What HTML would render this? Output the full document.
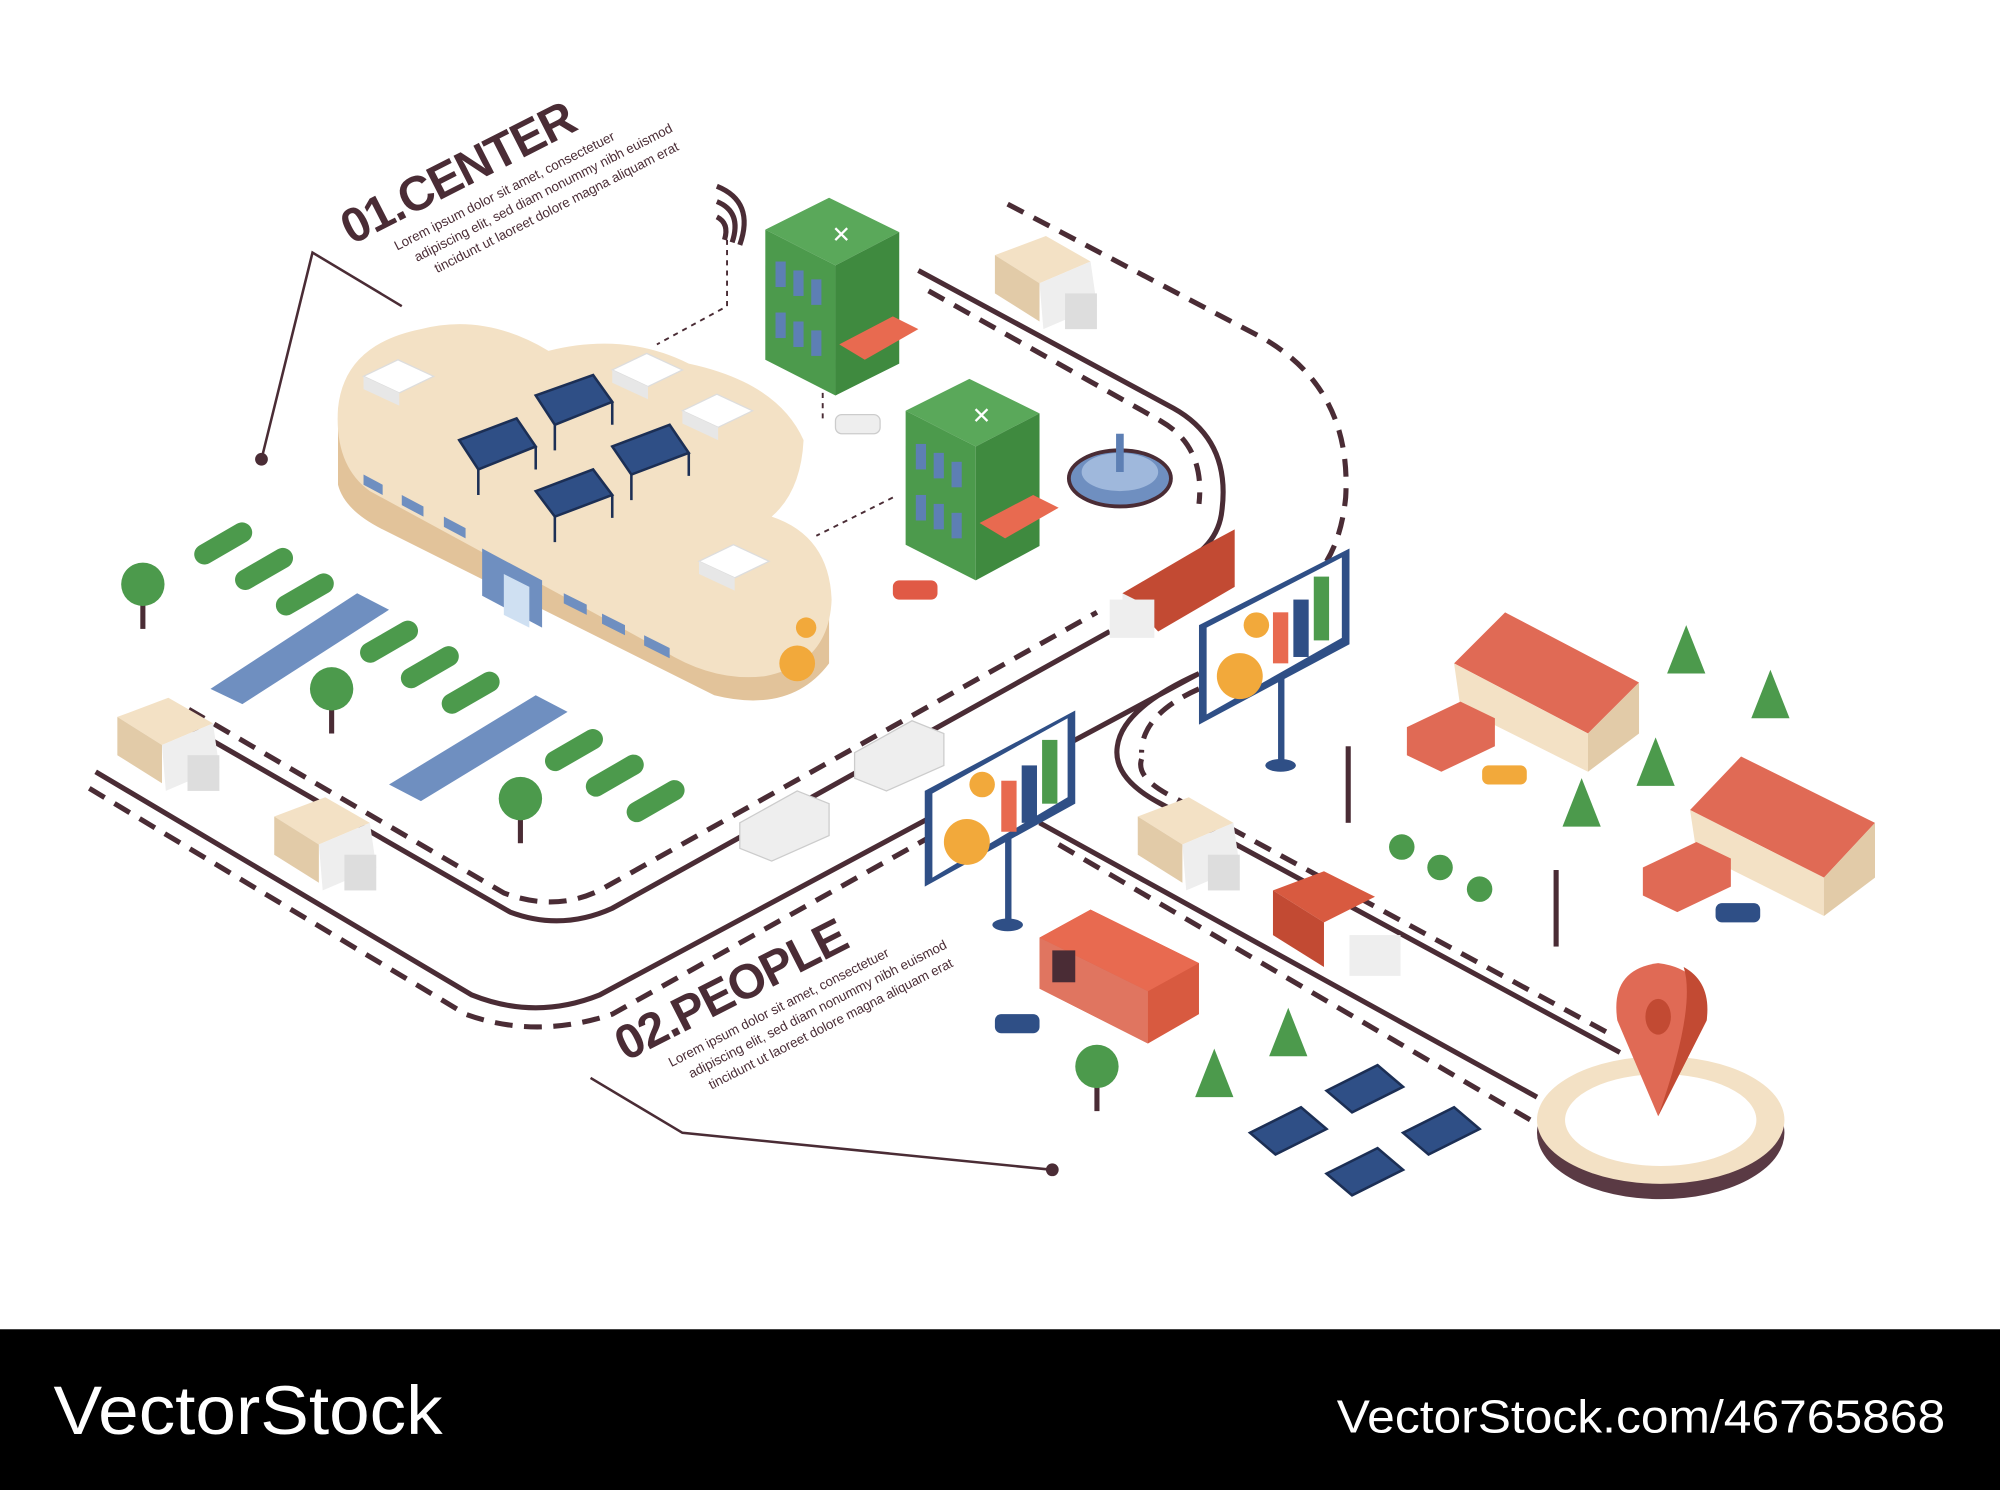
<!DOCTYPE html>
<html><head><meta charset="utf-8"><style>
html,body{margin:0;padding:0;background:#fff}
svg{display:block}
</style></head><body>
<svg width="2000" height="1490" viewBox="0 0 1568 1168" preserveAspectRatio="none" xmlns="http://www.w3.org/2000/svg" font-family="Liberation Sans, sans-serif">
<rect width="1568" height="1168" fill="#fff"/>
<g fill="none" stroke="#4a2c35" stroke-width="4">
<path d="M720 212 L920 320 Q965 345 958 400 Q955 430 920 445"/>
<path d="M790 160 L990 265 Q1060 305 1055 390 Q1052 420 1040 440" stroke-dasharray="14 9"/>
<path d="M728 228 L910 330 Q945 350 940 395" stroke-dasharray="14 9"/>
<path d="M148 570 L400 715 Q440 730 480 712 L870 495"/>
<path d="M148 556 L395 700 Q435 715 470 698 L860 480" stroke-dasharray="14 9"/>
<path d="M75 605 L370 780 Q420 800 470 780 L940 528 Q880 555 876 585 Q872 610 910 630 L1270 825"/>
<path d="M70 618 L365 795 Q420 815 480 795 L740 650" stroke-dasharray="14 9"/>
<path d="M895 595 Q890 610 920 625 L1265 812" stroke-dasharray="14 9"/>
<path d="M940 540 Q895 560 895 590" stroke-dasharray="14 9"/>
<path d="M815 645 L1205 860"/>
<path d="M830 662 L1200 878" stroke-dasharray="14 9"/>
<path d="M205 360 L245 198 L315 240" stroke-width="2"/>
<path d="M463 845 L535 888 L825 917" stroke-width="2"/>
<path d="M570 180 L570 240 L515 270" stroke-width="1.5" stroke-dasharray="4 4"/>
<path d="M700 390 L640 420" stroke-width="1.5" stroke-dasharray="4 4"/>
<path d="M645 300 L645 330" stroke-width="1.5" stroke-dasharray="4 4"/>
</g>
<circle cx="205" cy="360" r="5" fill="#4a2c35"/>
<circle cx="825" cy="917" r="5" fill="#4a2c35"/>
<g fill="none" stroke="#4a2c35" stroke-width="4"><path d="M562 170 q10 5 6 18"/><path d="M562 158 q20 8 12 32"/><path d="M562 146 q30 12 18 46"/></g>

<path d="M265 320 L265 380 Q270 400 300 415 L560 545 Q620 560 650 520 L650 460 L300 300 Z" fill="#e2c39a"/>
<path d="M265 320 Q270 270 330 258 Q380 245 430 275 Q490 260 540 285 Q610 300 630 345 Q628 385 605 405 Q650 420 652 470 Q650 520 600 530 Q560 535 520 510 L290 385 Q262 365 265 320 Z" fill="#f3e1c5"/>
<g fill="#6f8fc0">
<polygon points="285,372 300,380 300,388 285,380"/><polygon points="315,388 332,397 332,405 315,396"/><polygon points="348,405 365,414 365,422 348,413"/>
<polygon points="442,465 460,474 460,482 442,473"/><polygon points="472,481 490,490 490,498 472,489"/><polygon points="505,498 525,508 525,516 505,506"/>
<polygon points="378,430 425,455 425,492 378,467"/>
</g>
<polygon points="395,450 415,460 415,492 395,482" fill="#cfe0f2"/>
<g fill="#2f4f86" stroke="#1c2f55" stroke-width="2">
<polygon points="360,345 405,328 420,350 375,368"/>
<polygon points="420,310 465,294 480,315 435,333"/>
<polygon points="420,385 465,368 480,388 435,405"/>
<polygon points="480,350 525,333 540,355 495,372"/>
</g>
<g stroke="#1c2f55" stroke-width="2"><path d="M375 368 v20 M420 350 v18 M435 333 v20 M480 315 v18 M435 405 v20 M480 388 v18 M495 372 v20 M540 355 v18"/></g>
<g>
<polygon points="285,295 312,282 340,295 313,308" fill="#fff" stroke="#ddd"/><polygon points="285,295 313,308 313,318 285,305" fill="#e7e7e7"/>
<polygon points="480,290 507,277 535,290 508,303" fill="#fff" stroke="#ddd"/><polygon points="480,290 508,303 508,313 480,300" fill="#e7e7e7"/>
<polygon points="535,322 562,309 590,322 563,335" fill="#fff" stroke="#ddd"/><polygon points="535,322 563,335 563,345 535,332" fill="#e7e7e7"/>
<polygon points="548,440 575,427 603,440 576,453" fill="#fff" stroke="#ddd"/><polygon points="548,440 576,453 576,463 548,450" fill="#e7e7e7"/>
</g>
<circle cx="625" cy="520" r="14" fill="#f2a93b"/><circle cx="632" cy="492" r="8" fill="#f2a93b"/>

<g>
<polygon points="600,180 650,155 705,182 655,208" fill="#5aa85a"/>
<polygon points="600,180 655,208 655,310 600,282" fill="#4c9a4c"/>
<polygon points="655,208 705,182 705,285 655,310" fill="#3f8a3f"/>
<polygon points="710,322 760,297 815,324 765,350" fill="#5aa85a"/>
<polygon points="710,322 765,350 765,455 710,427" fill="#4c9a4c"/>
<polygon points="765,350 815,324 815,428 765,455" fill="#3f8a3f"/>
<g fill="#5d7fb4"><rect x="608" y="205" width="8" height="20"/><rect x="622" y="212" width="8" height="20"/><rect x="636" y="219" width="8" height="20"/><rect x="608" y="245" width="8" height="20"/><rect x="622" y="252" width="8" height="20"/><rect x="636" y="259" width="8" height="20"/>
<rect x="718" y="348" width="8" height="20"/><rect x="732" y="355" width="8" height="20"/><rect x="746" y="362" width="8" height="20"/><rect x="718" y="388" width="8" height="20"/><rect x="732" y="395" width="8" height="20"/><rect x="746" y="402" width="8" height="20"/></g>
<polygon points="658,270 700,248 720,258 678,282" fill="#e86a50"/>
<polygon points="768,410 810,388 830,398 788,422" fill="#e86a50"/>
<text x="652" y="190" font-size="18" fill="#fff">✕</text><text x="762" y="332" font-size="18" fill="#fff">✕</text>
</g>
<ellipse cx="878" cy="375" rx="40" ry="22" fill="#6f8fc0" stroke="#4a2c35" stroke-width="3"/>
<ellipse cx="878" cy="370" rx="30" ry="15" fill="#9fb8dc"/>
<rect x="875" y="340" width="6" height="30" fill="#5d7fb4"/>

<polygon points="165,540 280,465 305,478 190,552" fill="#6f8fc0"/>
<polygon points="305,615 420,545 445,558 330,628" fill="#6f8fc0"/>
<g fill="#4c9a4c">
<rect x="150" y="418" width="50" height="16" rx="8" transform="rotate(-30 175 426)"/>
<rect x="182" y="438" width="50" height="16" rx="8" transform="rotate(-30 207 446)"/>
<rect x="214" y="458" width="50" height="16" rx="8" transform="rotate(-30 239 466)"/>
<rect x="280" y="495" width="50" height="16" rx="8" transform="rotate(-30 305 503)"/>
<rect x="312" y="515" width="50" height="16" rx="8" transform="rotate(-30 337 523)"/>
<rect x="344" y="535" width="50" height="16" rx="8" transform="rotate(-30 369 543)"/>
<rect x="425" y="580" width="50" height="16" rx="8" transform="rotate(-30 450 588)"/>
<rect x="457" y="600" width="50" height="16" rx="8" transform="rotate(-30 482 608)"/>
<rect x="489" y="620" width="50" height="16" rx="8" transform="rotate(-30 514 628)"/>
</g>
<g>
<g transform="translate(112,458)"><rect x="-2" y="0" width="4" height="35" fill="#4a2c35"/><circle r="17" fill="#4c9a4c"/></g>
<g transform="translate(260,540)"><rect x="-2" y="0" width="4" height="35" fill="#4a2c35"/><circle r="17" fill="#4c9a4c"/></g>
<g transform="translate(408,626)"><rect x="-2" y="0" width="4" height="35" fill="#4a2c35"/><circle r="17" fill="#4c9a4c"/></g>
<g transform="translate(860,836)"><rect x="-2" y="0" width="4" height="35" fill="#4a2c35"/><circle r="17" fill="#4c9a4c"/></g>
<g fill="#4c9a4c">
<polygon points="1322,490 1307,528 1337,528"/><polygon points="1388,525 1373,563 1403,563"/><polygon points="1298,578 1283,616 1313,616"/><polygon points="1240,610 1225,648 1255,648"/>
<polygon points="1010,790 995,828 1025,828"/><polygon points="952,822 937,860 967,860"/>
</g>
<circle cx="1099" cy="664" r="10" fill="#4c9a4c"/><circle cx="1129" cy="680" r="10" fill="#4c9a4c"/><circle cx="1160" cy="697" r="10" fill="#4c9a4c"/>
</g>

<g>
<g transform="translate(780,190)"><polygon points="0,10 40,-5 75,15 35,32" fill="#f3e1c5"/><polygon points="0,10 35,32 35,62 0,40" fill="#e2cba8"/><polygon points="35,32 75,15 80,50 38,68" fill="#eee"/><rect x="55" y="40" width="25" height="28" fill="#ddd"/></g>
<g transform="translate(92,552)"><polygon points="0,10 40,-5 75,15 35,32" fill="#f3e1c5"/><polygon points="0,10 35,32 35,62 0,40" fill="#e2cba8"/><polygon points="35,32 75,15 80,50 38,68" fill="#eee"/><rect x="55" y="40" width="25" height="28" fill="#ddd"/></g>
<g transform="translate(215,630)"><polygon points="0,10 40,-5 75,15 35,32" fill="#f3e1c5"/><polygon points="0,10 35,32 35,62 0,40" fill="#e2cba8"/><polygon points="35,32 75,15 80,50 38,68" fill="#eee"/><rect x="55" y="40" width="25" height="28" fill="#ddd"/></g>
<g transform="translate(892,630)"><polygon points="0,10 40,-5 75,15 35,32" fill="#f3e1c5"/><polygon points="0,10 35,32 35,62 0,40" fill="#e2cba8"/><polygon points="35,32 75,15 80,50 38,68" fill="#eee"/><rect x="55" y="40" width="25" height="28" fill="#ddd"/></g>
<g transform="translate(998,688)"><polygon points="0,10 40,-5 80,15 40,35" fill="#d85a40"/><polygon points="0,10 40,35 40,70 0,45" fill="#c24a33"/><rect x="60" y="45" width="40" height="32" fill="#eee"/></g>
<g transform="translate(880,420)"><polygon points="0,45 60,10 88,-5 88,40 28,75" fill="#c24a33"/><polygon points="0,45 20,55 20,75 0,65" fill="#eee"/><rect x="-10" y="50" width="35" height="30" fill="#eee"/></g>
<g fill="#eee" stroke="#ccc"><polygon points="670,590 715,565 740,575 740,600 695,620 670,610"/><polygon points="580,645 625,620 650,630 650,655 605,675 580,665"/></g>
<rect x="655" y="325" width="35" height="15" rx="5" fill="#eee" stroke="#ccc"/>
<rect x="700" y="455" width="35" height="15" rx="5" fill="#e05a45"/>
<rect x="1162" y="600" width="35" height="15" rx="5" fill="#f2a93b"/>
<rect x="1345" y="708" width="35" height="15" rx="5" fill="#2f4f86"/>
<rect x="780" y="795" width="35" height="15" rx="5" fill="#2f4f86"/>
</g>

<g>
<rect x="1002" y="520" width="5" height="80" fill="#2f4f86"/><ellipse cx="1004" cy="600" rx="12" ry="5" fill="#2f4f86"/>
<polygon points="940,490 1058,430 1058,505 940,568" fill="#2f4f86"/>
<polygon points="946,492 1052,437 1052,500 946,560" fill="#fff"/>
<rect x="998" y="480" width="12" height="40" fill="#e86a50"/><rect x="1014" y="470" width="12" height="45" fill="#2f4f86"/><rect x="1030" y="452" width="12" height="50" fill="#4c9a4c"/>
<circle cx="972" cy="530" r="18" fill="#f2a93b"/><circle cx="985" cy="490" r="10" fill="#f2a93b"/>
<rect x="788" y="650" width="5" height="75" fill="#2f4f86"/><ellipse cx="790" cy="725" rx="12" ry="5" fill="#2f4f86"/>
<polygon points="725,620 843,557 843,630 725,695" fill="#2f4f86"/>
<polygon points="731,622 837,563 837,625 731,688" fill="#fff"/>
<rect x="785" y="612" width="12" height="40" fill="#e86a50"/><rect x="801" y="600" width="12" height="45" fill="#2f4f86"/><rect x="817" y="580" width="12" height="50" fill="#4c9a4c"/>
<circle cx="758" cy="660" r="18" fill="#f2a93b"/><circle cx="770" cy="615" r="10" fill="#f2a93b"/>
</g>
<rect x="1055" y="585" width="4" height="60" fill="#4a2c35"/><rect x="1218" y="682" width="4" height="60" fill="#4a2c35"/>

<g>
<polygon points="1140,520 1180,480 1285,535 1245,575" fill="#e06a55"/>
<polygon points="1140,520 1245,575 1245,605 1145,555" fill="#f3e1c5"/>
<polygon points="1245,575 1285,535 1285,575 1245,605" fill="#e2cba8"/>
<polygon points="1103,570 1145,550 1172,563 1172,585 1130,605 1103,592" fill="#e06a55"/>
<polygon points="1325,635 1365,593 1470,645 1430,688" fill="#e06a55"/>
<polygon points="1325,635 1430,688 1430,718 1330,668" fill="#f3e1c5"/>
<polygon points="1430,688 1470,645 1470,688 1430,718" fill="#e2cba8"/>
<polygon points="1288,680 1330,660 1357,673 1357,695 1315,715 1288,702" fill="#e06a55"/>
<polygon points="815,735 855,713 940,755 940,795 900,818 815,775" fill="#d85a40"/>
<polygon points="815,735 855,713 940,755 900,777" fill="#e86a50"/>
<polygon points="815,735 900,777 900,818 815,775" fill="#e07560"/>
<rect x="825" y="745" width="18" height="25" fill="#4a2c35"/>
</g>
<g fill="#2f4f86" stroke="#1c2f55" stroke-width="2">
<polygon points="980,888 1020,868 1040,885 1000,905"/><polygon points="1040,855 1080,835 1100,852 1060,872"/>
<polygon points="1040,920 1080,900 1100,917 1060,937"/><polygon points="1100,888 1140,868 1160,885 1120,905"/>
</g>
<ellipse cx="1302" cy="888" rx="97" ry="52" fill="#5a3a44"/>
<ellipse cx="1302" cy="878" rx="97" ry="50" fill="#f3e1c5"/>
<ellipse cx="1302" cy="878" rx="75" ry="36" fill="#fff"/>
<path d="M1300 875 L1268 800 Q1262 760 1300 755 Q1340 760 1338 800 Z" fill="#e06a55"/>
<path d="M1300 875 L1338 800 Q1342 770 1320 758 Q1330 790 1300 875" fill="#c24a33"/>
<ellipse cx="1300" cy="797" rx="10" ry="14" fill="#c24a33"/>

<g fill="#4a2c35" transform="rotate(-27 280 190)">
<text x="275" y="190" font-size="38" font-weight="bold" letter-spacing="-1">01.CENTER</text>
<text x="305" y="210" font-size="10.5">Lorem ipsum dolor sit amet, consectetuer</text>
<text x="315" y="225" font-size="10.5">adipiscing elit, sed diam nonummy nibh euismod</text>
<text x="325" y="240" font-size="10.5">tincidunt ut laoreet dolore magna aliquam erat</text>
</g>
<g fill="#4a2c35" transform="rotate(-27 495 830)">
<text x="490" y="830" font-size="38" font-weight="bold" letter-spacing="-1">02.PEOPLE</text>
<text x="520" y="850" font-size="10.5">Lorem ipsum dolor sit amet, consectetuer</text>
<text x="530" y="865" font-size="10.5">adipiscing elit, sed diam nonummy nibh euismod</text>
<text x="540" y="880" font-size="10.5">tincidunt ut laoreet dolore magna aliquam erat</text>
</g>

<rect x="0" y="1042" width="1568" height="126" fill="#000"/>
<text x="42" y="1124" font-size="54" fill="#fff" textLength="305" lengthAdjust="spacingAndGlyphs">VectorStock</text>
<text x="1048" y="1123" font-size="36" fill="#fff" textLength="477" lengthAdjust="spacingAndGlyphs">VectorStock.com/46765868</text>
</svg>
</body></html>
